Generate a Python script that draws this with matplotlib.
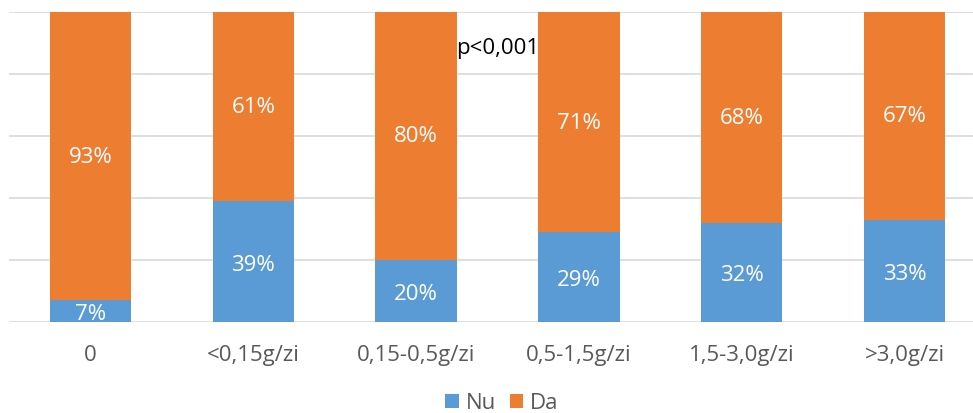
import matplotlib
matplotlib.use("Agg")
import matplotlib.pyplot as plt
import numpy as np

categories = ["0", "<0,15g/zi", "0,15-0,5g/zi", "0,5-1,5g/zi", "1,5-3,0g/zi", ">3,0g/zi"]
nu_values = [7, 39, 20, 29, 32, 33]
da_values = [93, 61, 80, 71, 68, 67]
series_names = ["Nu", "Da"]
annotation_text = "p<0,001"

plt.rcParams["font.family"] = ["Open Sans", "DejaVu Sans"]

blue = "#5B9BD5"
orange = "#ED7D31"
grid_color = "#D9D9D9"
text_gray = "#595959"
fs = 16

fig = plt.figure(figsize=(9.73, 4.14), dpi=100)
ax = fig.add_axes([9 / 973, 91 / 414, 977 / 973, 310 / 414])

x = np.arange(len(categories))
width = 0.5
b1 = ax.bar(x, nu_values, width, color=blue, label=series_names[0], zorder=3)
b2 = ax.bar(x, da_values, width, bottom=nu_values, color=orange, label=series_names[1], zorder=3)

for i in range(len(categories)):
    ax.text(x[i], nu_values[i] / 2 - 0.8, f"{nu_values[i]}%", ha="center", va="center",
            color="white", fontsize=fs, zorder=4)
    ax.text(x[i], nu_values[i] + da_values[i] / 2, f"{da_values[i]}%", ha="center", va="center",
            color="white", fontsize=fs, zorder=4)

ax.text(2.5, 88.4, annotation_text, ha="center", va="center", color="black", fontsize=fs, zorder=5)

ax.set_xlim(-0.5, len(categories) - 0.5)
ax.set_ylim(0, 100)
ax.set_yticks(np.arange(0, 101, 20))
ax.yaxis.grid(True, color=grid_color, linewidth=1.2, zorder=0)
ax.set_axisbelow(True)
ax.tick_params(axis="y", left=False, labelleft=False)
ax.tick_params(axis="x", bottom=False, labelsize=fs, labelcolor=text_gray, pad=12)
ax.set_xticks(x)
ax.set_xticklabels(categories)
for s in ax.spines.values():
    s.set_visible(False)

fig.legend(handles=[b1, b2], labels=series_names, loc="center", bbox_to_anchor=(502 / 973, 10 / 414),
           ncol=2, frameon=False, fontsize=fs, labelcolor=text_gray,
           handlelength=0.6, handleheight=0.6, handletextpad=0.3, columnspacing=0.65)

fig.savefig("out.png", dpi=100)
